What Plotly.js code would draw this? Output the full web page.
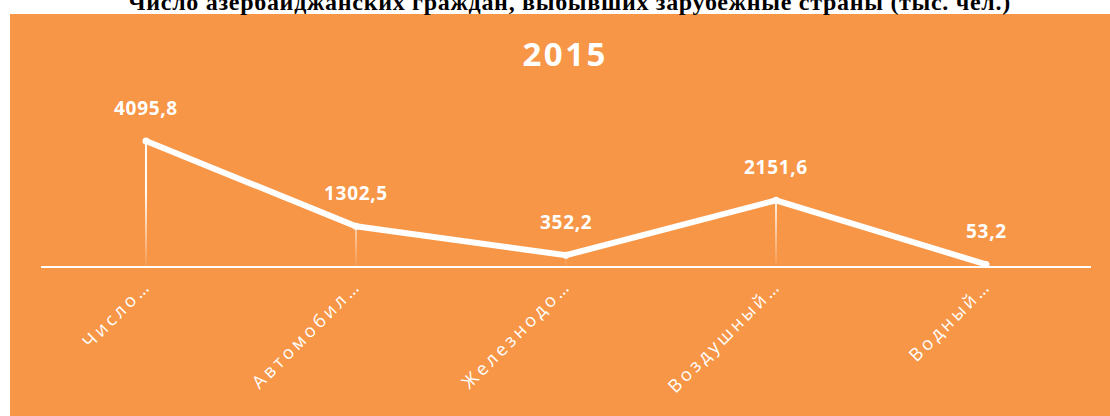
<!DOCTYPE html>
<html>
<head>
<meta charset="utf-8">
<script src="https://cdn.plot.ly/plotly-3.0.1.min.js"></script>
<style>
  html, body { margin: 0; padding: 0; background: #ffffff; }
  #chart { width: 1110px; height: 416px; }
  .xtick text { letter-spacing: 3.4px; }
  .annotation-text { letter-spacing: 0.7px; }
  .annotation[data-index="6"] .annotation-text { letter-spacing: 2.5px; }
</style>
</head>
<body>
<div id="chart"></div>
<script>
const chartTitle = "Число азербайджанских граждан, выбывших зарубежные страны (тыс. чел.)";
const yearLabel = "2015";
const categories = ["Число…", "Автомобил…", "Железнодо…", "Воздушный…", "Водный…"];
const values = [4095.8, 1302.5, 352.2, 2151.6, 53.2];

const orange = "#F79646";
const xIdx = categories.map((c, i) => i);

// thin drop lines from each point to the axis
const dropX = [], dropY = [];
values.forEach((v, i) => { dropX.push(i, i, null); dropY.push(0, v, null); });

const traces = [
  {
    x: dropX, y: dropY, type: "scatter", mode: "lines",
    line: { color: "#ffffff", width: 2 },
    hoverinfo: "skip", showlegend: false, cliponaxis: false
  },
  {
    x: xIdx, y: values, type: "scatter", mode: "lines+markers",
    line: { color: "#ffffff", width: 6 },
    marker: { color: "#ffffff", size: 7 },
    showlegend: false, cliponaxis: false
  }
];

const annotations = values.map((v, i) => ({
  x: i, y: v, xref: "x", yref: "y",
  text: v.toFixed(1).replace(".", ","),
  showarrow: false, yshift: 33,
  font: { family: "Open Sans", size: 19, color: "#ffffff", weight: "bold" }
}));

annotations.push({
  xref: "paper", yref: "paper", x: 0.5038, y: 1, yanchor: "bottom", xanchor: "center",
  yshift: -3, showarrow: false, text: "<b>" + chartTitle + "</b>",
  font: { family: "Liberation Serif", size: 24, color: "#000000" }
});

annotations.push({
  xref: "paper", yref: "y", x: 0.499, y: 6950, showarrow: false,
  text: "<b>" + yearLabel + "</b>",
  font: { family: "Open Sans", size: 33, color: "#ffffff" }
});

const layout = {
  width: 1110, height: 416,
  margin: { l: 41, r: 19, t: 14, b: 150 },
  paper_bgcolor: "#ffffff",
  plot_bgcolor: "rgba(0,0,0,0)",
  showlegend: false,
  xaxis: {
    range: [-0.5, 4.5],
    tickmode: "array", tickvals: xIdx, ticktext: categories,
    tickangle: -45, ticks: "",
    tickfont: { family: "Open Sans", size: 18, color: "#ffffff" },
    showgrid: false, zeroline: false,
    showline: true, linecolor: "#ffffff", linewidth: 2,
    fixedrange: true
  },
  yaxis: {
    range: [0, 8257.7],
    showgrid: false, zeroline: false, showticklabels: false, showline: false,
    fixedrange: true
  },
  shapes: [{
    type: "rect", xref: "paper", yref: "paper",
    x0: -0.0295, x1: 1.05, y0: -0.6, y1: 1,
    fillcolor: orange, line: { width: 0 }, layer: "below"
  }],
  annotations: annotations
};

Plotly.newPlot("chart", traces, layout, { displayModeBar: false, staticPlot: true }).then(gd => {
  // fade the drop lines toward the axis (styling only)
  const svgNS = "http://www.w3.org/2000/svg";
  const plotH = gd._fullLayout._size.h;
  const defs = gd.querySelector("svg.main-svg defs") || gd.querySelector("svg defs");
  const grad = document.createElementNS(svgNS, "linearGradient");
  grad.setAttribute("id", "dropFade");
  grad.setAttribute("gradientUnits", "userSpaceOnUse");
  grad.setAttribute("x1", "0"); grad.setAttribute("x2", "0");
  grad.setAttribute("y1", String(plotH - 75)); grad.setAttribute("y2", String(plotH));
  [["0", "1"], ["1", "0.05"]].forEach(([off, op]) => {
    const s = document.createElementNS(svgNS, "stop");
    s.setAttribute("offset", off);
    s.setAttribute("stop-color", "#ffffff");
    s.setAttribute("stop-opacity", op);
    grad.appendChild(s);
  });
  defs.appendChild(grad);
  const firstTrace = gd.querySelector(".scatterlayer .trace");
  if (firstTrace) {
    firstTrace.querySelectorAll("path.js-line").forEach(p => {
      p.style.stroke = "url(#dropFade)";
    });
  }
});
</script>
</body>
</html>
